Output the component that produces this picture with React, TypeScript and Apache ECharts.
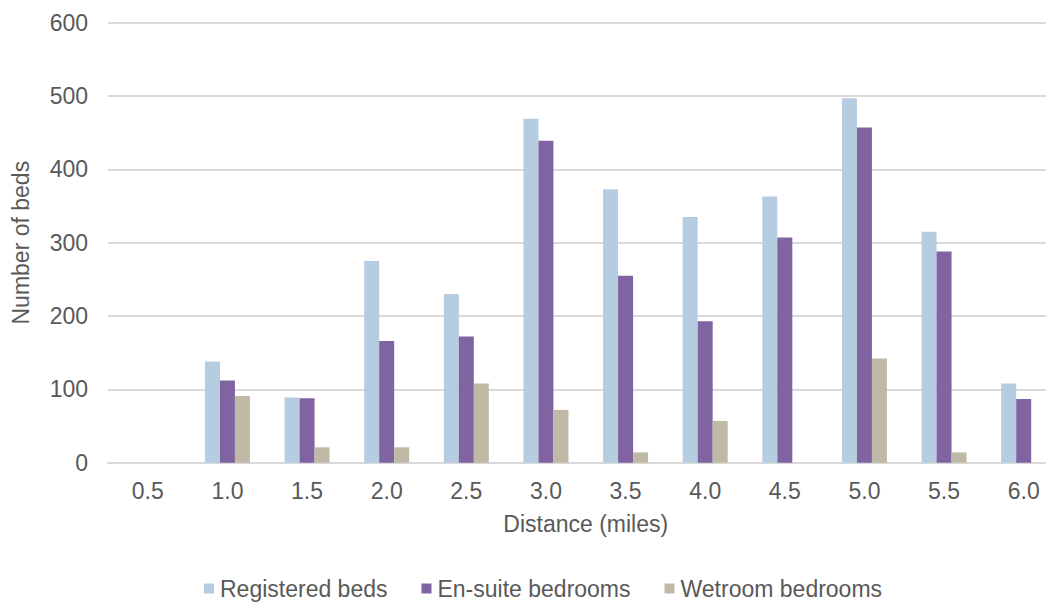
import React, { useEffect, useRef } from "react";
import * as echarts from "echarts";

const categories = ["0.5", "1.0", "1.5", "2.0", "2.5", "3.0", "3.5", "4.0", "4.5", "5.0", "5.5", "6.0"];
const registeredBeds = [0, 138, 89, 275, 230, 469, 373, 335, 363, 497, 315, 108];
const enSuiteBedrooms = [0, 112, 88, 166, 172, 439, 255, 193, 307, 457, 288, 87];
const wetroomBedrooms = [0, 91, 21, 21, 108, 72, 14, 57, 0, 142, 14, 0];
const seriesNames = ["Registered beds", "En-suite bedrooms", "Wetroom bedrooms"];
const colors = ["#B6CDE1", "#8064A2", "#BFB9A6"];

export default function App() {
  const ref = useRef<HTMLDivElement>(null);
  useEffect(() => {
    document.body.style.margin = "0";
    const chart = echarts.init(ref.current!, null, { renderer: "svg" });
    const font = "Liberation Sans, Arial, sans-serif";
    const textColor = "#595959";
    const mk = (name: string, data: number[], color: string) => ({
      name,
      type: "bar",
      data,
      barWidth: 15,
      barGap: "0%",
      itemStyle: { color },
    });
    chart.setOption({
      animation: false,
      color: colors,
      textStyle: { fontFamily: font },
      grid: {
        left: 108,
        top: 22.7,
        width: 955.5,
        height: 440,
        containLabel: false,
        outerBoundsMode: "none",
      },
      legend: {
        data: seriesNames,
        left: 199,
        top: 572,
        itemWidth: 10,
        itemHeight: 10,
        itemGap: 34,
        icon: "rect",
        textStyle: { fontFamily: font, fontSize: 23, lineHeight: 22, color: textColor, padding: [0, 0, 0, 1] },
      },
      xAxis: {
        type: "category",
        data: categories,
        name: "Distance (miles)",
        nameLocation: "middle",
        nameGap: 50,
        nameTextStyle: { fontFamily: font, fontSize: 23, color: textColor, verticalAlign: "top" },
        axisLine: { show: true, lineStyle: { color: "#D9D9D9", width: 2 } },
        axisTick: { show: false },
        axisLabel: { fontFamily: font, fontSize: 23, color: textColor, margin: 17 },
      },
      yAxis: {
        type: "value",
        min: 0,
        max: 600,
        interval: 100,
        name: "Number of beds",
        nameLocation: "middle",
        nameGap: 76,
        nameTextStyle: { fontFamily: font, fontSize: 23, color: textColor },
        axisLine: { show: false },
        axisTick: { show: false },
        axisLabel: { fontFamily: font, fontSize: 23, color: textColor, margin: 20 },
        splitLine: { lineStyle: { color: "#D9D9D9", width: 2 } },
      },
      series: [
        mk(seriesNames[0], registeredBeds, colors[0]),
        mk(seriesNames[1], enSuiteBedrooms, colors[1]),
        mk(seriesNames[2], wetroomBedrooms, colors[2]),
      ],
    });
    return () => chart.dispose();
  }, []);
  return <div ref={ref} style={{ width: 1046, height: 603, overflow: "hidden" }} />;
}
